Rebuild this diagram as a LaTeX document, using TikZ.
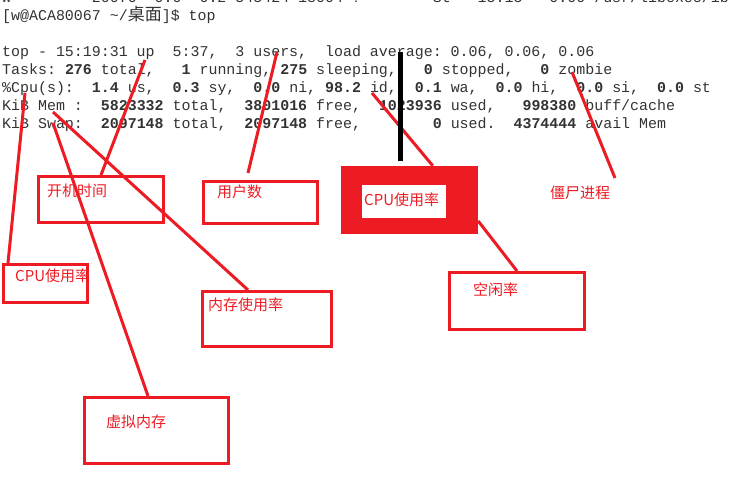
\documentclass[tikz,border=0pt]{standalone}
\usepackage{fontspec}
\newfontfamily\mono[WordSpace={1,0,0}]{Liberation Mono}
\newfontfamily\cjk{Noto Sans CJK SC}
\definecolor{mspred}{HTML}{ED1C24}
\newcommand\bd[1]{\textbf{#1}}
\tikzset{
    term/.style={anchor=base west,inner sep=0pt,text=black!80,font=\mono\fontsize{14.95}{18}\selectfont\frenchspacing},
    note/.style={anchor=base west,inner sep=0pt,text=mspred,font=\cjk\fontsize{15}{18}\selectfont},
    rbox/.style={draw=mspred,line width=3pt,inner sep=0pt},
    notes/.style={
        every edge/.style={draw=mspred,line width=3pt},
    }
}
\begin{document}
\begin{tikzpicture}[x=1pt,y=-1pt,notes]
\def\ls{18}
\fill[white] (0,0) rectangle (734,490);
\useasboundingbox (0,0) rectangle (734,490);
\node[term] (l0) at (2,2.5) {w~~~~~~~~~20070~~0.0~~0.2~545424~18004~?~~~~~~~~St~~~15:15~~~0:00~/usr/libexec/ib};
\node[term] (prompt) at (2,2.5+\ls) {[w@ACA80067 \textasciitilde/{\cjk\fontsize{17}{18}\selectfont 桌面}]\$ top};
\node[term] (l3) at (2,2.5+3*\ls) {top~-~15:19:31~up~~5:37,~~3~users,~~load~average:~0.06,~0.06,~0.06};
\node[term] (l4) at (2,2.5+4*\ls) {Tasks:~\bd{276}~total,~~~\bd{1}~running,~\bd{275}~sleeping,~~~\bd{0}~stopped,~~~\bd{0}~zombie};
\node[term] (l5) at (2,2.5+5*\ls) {\%Cpu(s):~~\bd{1.4}~us,~~\bd{0.3}~sy,~~\bd{0.0}~ni,~\bd{98.2}~id,~~\bd{0.1}~wa,~~\bd{0.0}~hi,~~\bd{0.0}~si,~~\bd{0.0}~st};
\node[term] (l6) at (2,2.5+6*\ls) {KiB~Mem~:~~\bd{5823332}~total,~~\bd{3801016}~free,~~\bd{1023936}~used,~~~\bd{998380}~buff/cache};
\node[term] (l7) at (2,2.5+7*\ls) {KiB~Swap:~~\bd{2097148}~total,~~\bd{2097148}~free,~~~~~~~~\bd{0}~used.~~\bd{4374444}~avail~Mem};
\node[rbox, minimum width=125pt, minimum height=46pt] (boot) at (101,199.5) {};
\node[rbox, minimum width=114pt, minimum height=42pt] (users) at (260.5,202.5) {};
\node[rbox, minimum width=84pt, minimum height=38pt] (cpul) at (45.5,283.5) {};
\node[rbox, minimum width=129pt, minimum height=55pt] (mem) at (267,319) {};
\node[rbox, minimum width=144pt, minimum height=66pt] (swap) at (156.5,430.5) {};
\node[rbox, minimum width=135pt, minimum height=57pt] (idle) at (517,301) {};
\node[fill=mspred, inner sep=0pt, minimum width=137pt, minimum height=68pt] (cpu) at (409.5,200) {};
\node[fill=white, inner sep=0pt, minimum width=84pt, minimum height=33pt] (cpuin) at (404,201.5) {};
\node[note] (lboot) at (47,196) {开机时间};
\node[note] (lusers) at (217,197) {用户数};
\node[note] (lcpul) at (15,281) {CPU使用率};
\node[note] (lmem) at (208,310) {内存使用率};
\node[note] (lcpu) at (364,205) {CPU使用率};
\node[note] (lidle) at (473,295) {空闲率};
\node[note] (lzombie) at (550,198) {僵尸进程};
\node[note] (lswap) at (106,427) {虚拟内存};
\coordinate (up) at (145,60);
\coordinate (us) at (277,52);
\coordinate (us2) at (248,173);
\coordinate (cu) at (25,93);
\coordinate (me) at (53,112);
\coordinate (sw) at (53,123);
\coordinate (id) at (372,93);
\coordinate (zo) at (572,72);
\coordinate (zo2) at (615,178);
\coordinate (bar) at (400,52);
\coordinate (bar2) at (400,161);
\path
    (up) edge (boot.north)
    (us) edge (us2)
    (cu) edge ([xshift=6pt]cpul.north west)
    (me) edge ([xshift=47pt]mem.north west)
    (sw) edge ([xshift=65pt]swap.north west)
    (id) edge ([xshift=92pt]cpu.north west)
    ([yshift=-21pt]cpu.east) edge (idle.north)
    (zo) edge (zo2)
;
\draw[line width=5pt] (bar) -- (bar2);
\end{tikzpicture}
\end{document}
